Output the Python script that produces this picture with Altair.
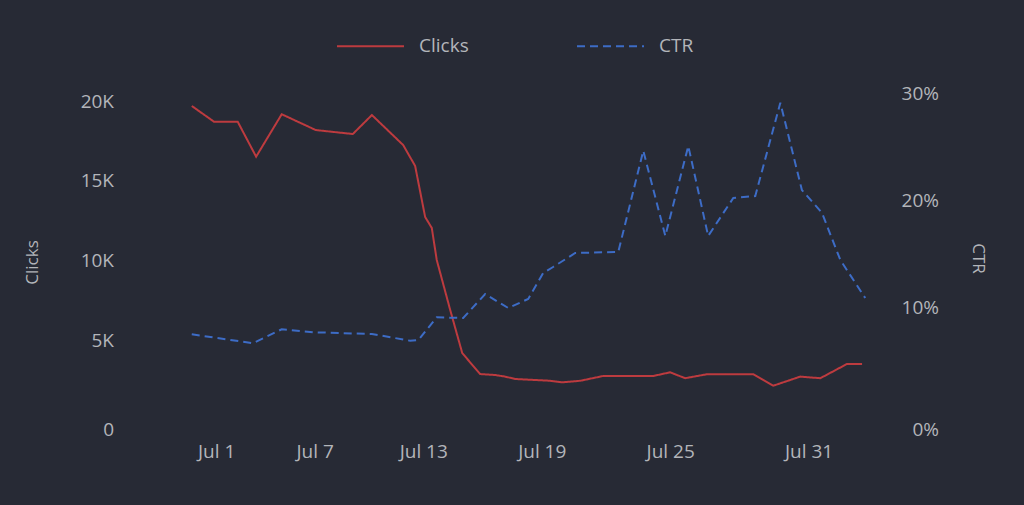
import altair as alt
import pandas as pd

# ---- data ----
series = ["Clicks", "CTR"]
x_ticks = [1, 7, 13, 19, 25, 31]          # "Jul N" tick labels

# day of July (fractional) for each Clicks vertex
clicks_day = [-0.58, 0.87, 2.37, 3.51, 5.06, 7.06, 9.17, 10.23, 11.93, 12.57,
              13.10, 13.45, 13.71, 14.41, 15.03, 15.94, 16.70, 17.20, 17.70,
              19.41, 19.97, 20.85, 21.93, 24.23, 25.00, 25.67, 26.64, 28.65,
              29.51, 30.65, 31.49, 32.59, 33.21]
clicks = [19690, 18700, 18700, 16510, 19170, 18180, 17930, 19120, 17240, 15930,
          12730, 12040, 10030, 6900, 4200, 2880, 2820, 2720, 2570,
          2460, 2360, 2460, 2760, 2760, 2990, 2620, 2870, 2870,
          2150, 2720, 2620, 3510, 3510]

ctr_day = [-0.58, 3.32, 5.06, 6.92, 10.23, 12.30, 12.75, 13.71, 15.08, 16.20,
           17.35, 18.34, 19.07, 19.55, 20.61, 22.63, 23.78, 24.78, 25.81,
           26.69, 27.79, 28.74, 29.81, 30.72, 31.56, 32.32, 33.34]
ctr = [0.0745, 0.0661, 0.0792, 0.0764, 0.0748, 0.0685, 0.0692, 0.0904, 0.0897, 0.1121,
       0.0991, 0.1075, 0.1318, 0.1374, 0.1505, 0.1514, 0.2461, 0.1664, 0.2505,
       0.1664, 0.2019, 0.2037, 0.2909, 0.2093, 0.1879, 0.1439, 0.1084]

clicks_ticks = [0, 5000, 10000, 15000, 20000]
ctr_ticks = [0, 0.1, 0.2, 0.3]

OFFSET = 55.5  # shift so the pow scale reproduces the reference's date axis

df_c = pd.DataFrame({"day": clicks_day, "value": clicks, "series": "Clicks"})
df_t = pd.DataFrame({"day": ctr_day, "value": ctr, "series": "CTR"})

BG = "#272a35"
TXT = "#b3b5ba"
RED = "#bd3b3f"
BLUE = "#3d6cc6"
FONT = "Open Sans"
FS = 19

x_enc = alt.X(
    "xv:Q",
    scale=alt.Scale(type="pow", exponent=2, domain=[-2 + OFFSET, 34 + OFFSET],
                    zero=False, nice=False),
    axis=alt.Axis(title=None, values=[t + OFFSET for t in x_ticks],
                  labelExpr=f"'Jul ' + round(datum.value - {OFFSET})",
                  domain=False, ticks=False, grid=False, labelPadding=22,
                  labelFontSize=FS, labelColor=TXT, labelFont=FONT),
)

legend = alt.Legend(
    title=None, orient="none", legendX=165.5, legendY=-81.5, direction="horizontal",
    symbolType="stroke", symbolSize=4489, symbolStrokeWidth=2,
    labelFontSize=FS, labelColor=TXT, labelFont=FONT,
    columnPadding=104, labelOffset=14,
)
color = alt.Color("series:N", scale=alt.Scale(domain=series, range=[RED, BLUE]), legend=legend)
dash = alt.StrokeDash("series:N", scale=alt.Scale(domain=series, range=[[1, 0], [8, 5]]), legend=legend)

left = alt.Chart(df_c).transform_calculate(xv=f"datum.day + {OFFSET}").mark_line(
    strokeWidth=2).encode(
    x=x_enc,
    y=alt.Y("value:Q",
            scale=alt.Scale(domain=[0, 20502], nice=False, zero=False),
            axis=alt.Axis(values=clicks_ticks,
                          labelExpr="datum.value == 0 ? '0' : (datum.value / 1000) + 'K'",
                          title="Clicks", titleX=-138.5, titleY=169, titleAngle=270,
                          titleBaseline="middle", titleAlign="center",
                          titleFontSize=17, titleFontWeight="normal", titleColor=TXT,
                          titleFont=FONT, labelPadding=57,
                          labelOffset={"condition": {"test": "datum.value === 0", "value": 9}, "value": 0},
                          domain=False, ticks=False, grid=False,
                          labelColor=TXT, labelFontSize=FS, labelFont=FONT)),
    color=color,
    strokeDash=dash,
)

right = alt.Chart(df_t).transform_calculate(xv=f"datum.day + {OFFSET}").mark_line(
    strokeWidth=2).encode(
    x=x_enc,
    y=alt.Y("value:Q",
            scale=alt.Scale(domain=[-0.0056, 0.30], nice=False, zero=False),
            axis=alt.Axis(orient="right", values=ctr_ticks, format=".0%",
                          title="CTR", titleX=95.5, titleY=165, titleAngle=90,
                          titleBaseline="middle", titleAlign="center",
                          titleFontSize=17, titleFontWeight="normal", titleColor=TXT,
                          titleFont=FONT, labelPadding=57, labelAlign="right",
                          labelOffset={"condition": {"test": "datum.value === 0", "value": 15}, "value": 0},
                          domain=False, ticks=False, grid=False,
                          labelColor=TXT, labelFontSize=FS, labelFont=FONT)),
    color=color,
    strokeDash=dash,
)

chart = alt.layer(left, right).resolve_scale(y="independent").properties(
    width=711, height=327,
    padding={"left": 170.5, "top": 93, "right": 142.5, "bottom": 85},
    autosize="none",
    background=BG,
).configure_view(stroke=None)

chart.save("out.html", embed_options={"renderer": "svg", "actions": False})
